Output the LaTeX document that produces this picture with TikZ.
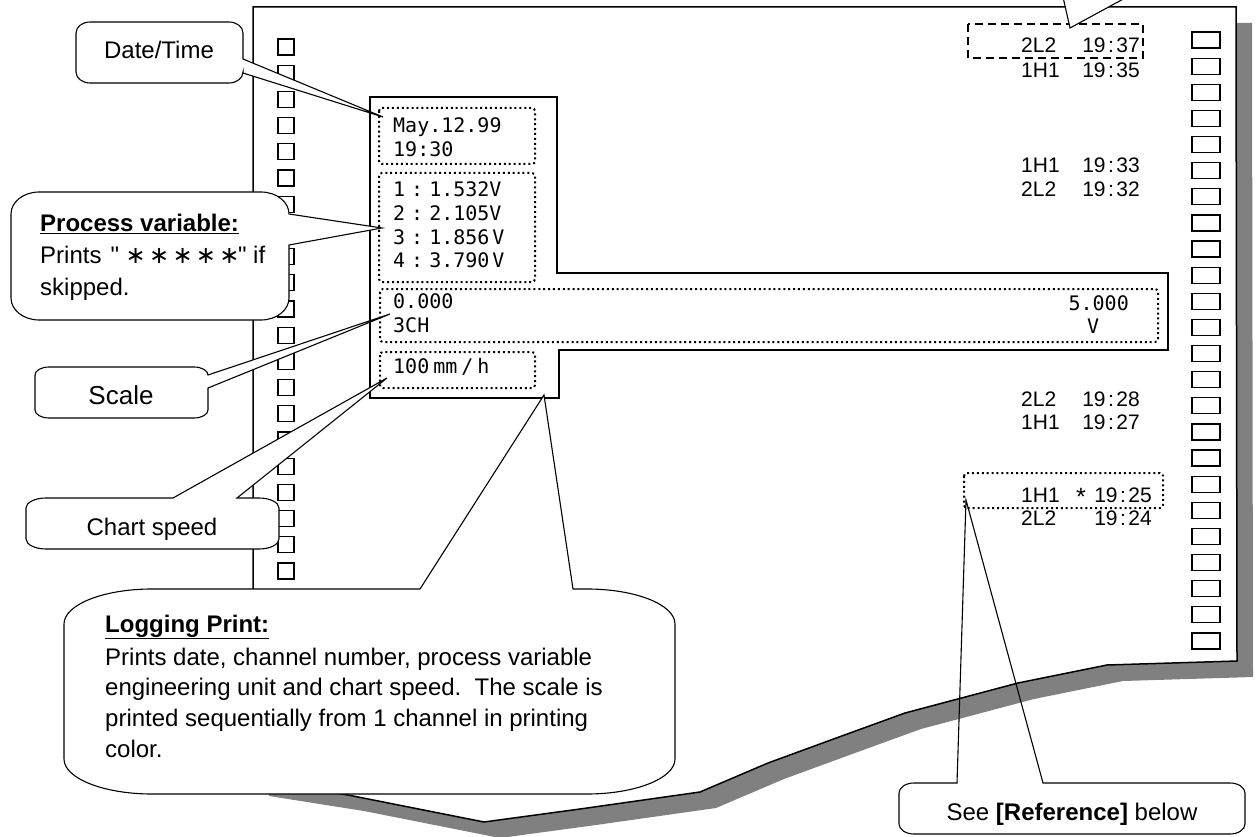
\documentclass[tikz,border=0pt]{standalone}
\usepackage{fontspec}
\usepackage{graphicx}
\setmainfont{Liberation Sans}
\newfontfamily\qfont{Liberation Sans}
\newfontfamily\prtfont{DejaVu Sans Mono}
\newfontfamily\djv{DejaVu Sans}
\definecolor{shadowgray}{HTML}{808080}
\tikzset{
  paperline/.style={line width=1.5pt, line join=miter},
  hole/.style={line width=1.2pt, fill=white},
  co/.style={line width=1.1pt, fill=white, line join=miter},
  dotbox/.style={line width=2pt, dash pattern=on 2pt off 2.9pt, rounded corners=3pt},
  dashbox/.style={line width=1.2pt, dash pattern=on 8pt off 5pt},
  ptxt/.style={font=\prtfont\fontsize{20}{24}\selectfont, inner sep=0pt, anchor=base west},
  lg/.style={font=\fontsize{21}{24}\selectfont, inner sep=0pt},
  ct/.style={font=\fontsize{24}{28}\selectfont, inner sep=0pt},
}
% callout: [style]{L}{T}{R}{B}{rx}{ry}{top pointer}{right pointer}
\newcommand\callout[9][]{%
  \draw[co,#1] ({#2+#6},#3) #8 -- ({#4-#6},#3)
    .. controls ({#4-0.448*#6},#3) and (#4,{#3+0.448*#7}) .. (#4,{#3+#7}) #9
    -- (#4,{#5-#7})
    .. controls (#4,{#5-0.448*#7}) and ({#4-0.448*#6},#5) .. ({#4-#6},#5)
    -- ({#2+#6},#5)
    .. controls ({#2+0.448*#6},#5) and (#2,{#5-0.448*#7}) .. (#2,{#5-#7})
    -- (#2,{#3+#7})
    .. controls (#2,{#3+0.448*#7}) and ({#2+0.448*#6},#3) .. cycle;}
\newcommand\tm[2]{#1\hspace{2.5pt}:\hspace{2.5pt}#2}
\newcommand\pvstar{\makebox[23.4pt]{\djv ∗}}
\def\paperpath{(253,7) -- (1236,7) -- (1237,661) -- (1107,665) -- (1018,683) -- (905,713) -- (839,737) -- (768,763) -- (700,792) -- (580,809) -- (484,822) -- (348,795) -- (253,780) -- cycle}

\begin{document}
\begin{tikzpicture}[x=1pt,y=-1pt]
\useasboundingbox (0,0) rectangle (1256,837);

% paper with shadow
\fill[shadowgray, shift={(16,16)}] \paperpath;
\draw[paperline, fill=white] \paperpath;

% sprocket holes
\foreach \i in {0,...,21} \draw[hole] (278,{39+26.2*\i}) rectangle ++(16,16);
\foreach \i in {0,...,23} \draw[hole] (1192,{32+26.13*\i}) rectangle ++(28,16);

% print area outline
\draw[paperline] (370,97) -- (557,97) -- (557,273) -- (1168,273) -- (1168,350)
  -- (559,350) -- (559,398) -- (370,398) -- cycle;

% dotted boxes
\draw[dotbox] (379,108) rectangle (535,164);
\draw[dotbox] (379,173) rectangle (535,282);
\draw[dotbox] (380,289) rectangle (1158,342);
\draw[dotbox] (380,352) rectangle (535,388);
\draw[dotbox] (964,473) rectangle (1163,508);
\draw[dashbox] (968,24) rectangle (1143,58);

% printed texts (left)
\node[ptxt] (date) at (393,133) {May.12.99};
\node[ptxt] (time) at (393,157) {19:30};
\node[ptxt] (pva) at (393,197) {1\hspace{6pt}:\hspace{6pt}1.532V};
\node[ptxt] (pvb) at (393,221) {2\hspace{6pt}:\hspace{6pt}2.105V};
\node[ptxt] (pvc) at (393,244) {3\hspace{6pt}:\hspace{6pt}1.856\hspace{3pt}V};
\node[ptxt] (pvd) at (393,268) {4\hspace{6pt}:\hspace{6pt}3.790\hspace{3pt}V};
\node[ptxt] (smin) at (393,308) {0.000};
\node[ptxt] (sch) at (393,332) {3CH};
\node[ptxt, anchor=base east] (smax) at (1129,310) {5.000};
\node[ptxt] (sunit) at (1087,333) {V};
\node[ptxt] (spd) at (393,373) {100\hspace{4pt}mm\hspace{4pt}/\hspace{4pt}h};

% printed log (right)
\node[lg, anchor=base west] (c1) at (1021,53) {2L2};
\node[lg, anchor=base east] (t1) at (1140,53) {\tm{19}{37}};
\node[lg, anchor=base west] (c2) at (1021,78) {1H1};
\node[lg, anchor=base east] (t2) at (1140,78) {\tm{19}{35}};
\node[lg, anchor=base west] (c3) at (1021,173) {1H1};
\node[lg, anchor=base east] (t3) at (1140,173) {\tm{19}{33}};
\node[lg, anchor=base west] (c4) at (1021,197) {2L2};
\node[lg, anchor=base east] (t4) at (1140,197) {\tm{19}{32}};
\node[lg, anchor=base west] (c5) at (1021,406) {2L2};
\node[lg, anchor=base east] (t5) at (1140,406) {\tm{19}{28}};
\node[lg, anchor=base west] (c6) at (1021,429) {1H1};
\node[lg, anchor=base east] (t6) at (1140,429) {\tm{19}{27}};
\node[lg, anchor=base west] (c7) at (1021,502) {1H1};
\node[lg, anchor=base west, font=\fontsize{25}{25}\selectfont] (st) at (1076,505) {*};
\node[lg, anchor=base east] (t7) at (1152,502) {\tm{19}{25}};
\node[lg, anchor=base west] (c8) at (1021,525) {2L2};
\node[lg, anchor=base east] (t8) at (1152,525) {\tm{19}{24}};

% pointer tips
\coordinate (dttip) at (383,117);
\coordinate (pvtip) at (382,228);
\coordinate (sctip) at (390,314);
\coordinate (cstip) at (387,378);
\coordinate (lptip) at (544,395);
\coordinate (srtip) at (966,500);
\coordinate (trtip) at (1070,28);
\coordinate (trA) at (1063,-3);
\coordinate (trB) at (1127,-3);

% top right pointer (callout outside the picture)
\fill[white] (trA) -- (trtip) -- (trB) -- cycle;
\draw[line width=1.1pt] (trA) -- (trtip) -- (trB);

% callouts
\callout{76}{22}{243}{83}{14}{11}{}{-- (243,59) -- (dttip) -- (243,73)}
\node[ct, anchor=base] (dtl) at (159,59) {Date/Time};

\callout{11}{192}{289}{320}{28}{22}{}{-- (pvtip) -- (289,245)}
\node[ct, anchor=base west] (pv1) at (40,232) {\textbf{\underline{Process variable:}}};
\node[ct, anchor=base west] (pv2) at (40,263) {Prints\hspace{9pt}{\qfont "}\hspace{5pt}\pvstar\pvstar\pvstar\pvstar\pvstar\hspace{-3pt}{\qfont "} if};
\node[ct, anchor=base west] (pv3) at (40,295) {skipped.};

\callout{35}{367}{208}{418}{14}{8}{}{-- (sctip) -- (208,388)}
\node[ct, font=\fontsize{26}{30}\selectfont, anchor=base] (scl) at (121,404) {Scale};

\callout{26}{498}{279}{549}{20}{10}{-- (173,498) -- (cstip) -- (237,498)}{}
\node[ct, anchor=base] (csl) at (152,535) {Chart speed};

\callout{64}{589}{675}{794}{88}{35}{-- (420,589) -- (lptip) -- (573,589)}{}
\node[ct, anchor=base west] (lp1) at (105,632) {\textbf{\underline{Logging Print:}}};
\node[ct, anchor=base west] (lp2) at (105,665) {Prints date, channel number, process variable};
\node[ct, anchor=base west] (lp3) at (105,695) {engineering unit and chart speed.\ \ The scale is};
\node[ct, anchor=base west] (lp4) at (105,726) {printed sequentially from 1 channel in printing};
\node[ct, anchor=base west] (lp5) at (105,757) {color.};

\callout[fill=none]{899}{783}{1245}{834}{15}{10}{-- (957,783) -- (srtip) -- (1043,783)}{}
\node[ct, anchor=base] (see) at (1072,820) {See \textbf{[Reference]} below};
\end{tikzpicture}
\end{document}
